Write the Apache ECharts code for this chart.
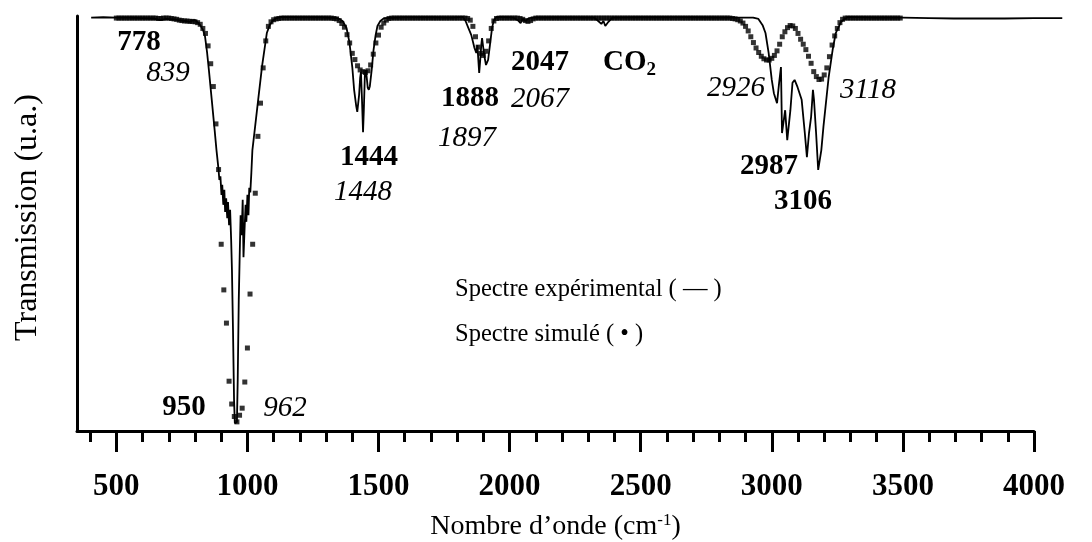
<!DOCTYPE html>
<html>
<head>
<meta charset="utf-8">
<script src="https://cdn.jsdelivr.net/npm/echarts@6/dist/echarts.min.js"></script>
<style>
html,body{margin:0;padding:0;background:#fff;}
#chart{width:1092px;height:542px;}
</style>
</head>
<body>
<div id="chart"></div>
<script>
// ---- DATA ----
const majorTicks = [500, 1000, 1500, 2000, 2500, 3000, 3500, 4000];
const minorTicks = [400, 600, 700, 800, 900, 1100, 1200, 1300, 1400, 1600, 1700, 1800, 1900,
  2100, 2200, 2300, 2400, 2600, 2700, 2800, 2900, 3100, 3200, 3300, 3400, 3600, 3700, 3800, 3900];

// Experimental spectrum: [wavenumber cm-1, transmission %]
const experimental = [
  [404,99.6],[450,99.7],[500,99.6],[550,99.6],[600,99.5],[640,99.4],[669,99.0],[690,99.3],[720,99.2],
  [750,98.9],[765,98.8],[779,98.6],[790,98.9],[801,99.0],[820,97.8],[831,96.6],[838,95.2],[846,91.3],
  [853,87.0],[864,79.8],[875,72.5],[882,67.7],[890,62.9],[893,60.5],[897,61.4],[901,56.9],[904,59.3],
  [908,54.5],[912,58.1],[915,52.8],[919,56.1],[923,51.3],[926,55.2],[930,49.6],[934,53.3],[938,46.0],
  [941,38.8],[945,24.3],[949,7.5],[952,1.9],[960,2.2],[963,12.3],[967,31.6],[971,43.6],[974,52.0],
  [978,47.2],[982,55.7],[985,41.9],[989,48.4],[993,54.5],[996,50.4],[1000,56.9],[1004,52.0],[1007,58.6],
  [1011,57.5],[1015,62.2],[1019,67.7],[1030,73.7],[1041,79.8],[1056,88.0],[1074,95.9],[1085,97.8],
  [1096,98.8],[1111,99.5],[1130,99.8],[1200,99.7],[1280,99.7],
  [1344,99.5],[1363,98.8],[1378,97.1],[1389,93.7],[1400,87.7],[1407,82.2],[1415,78.3],[1419,76.9],
  [1422,77.3],[1426,81.0],[1430,85.1],[1433,86.5],[1437,79.8],[1441,72.0],[1444,77.3],[1448,85.8],
  [1452,87.0],[1456,84.6],[1459,82.7],[1463,82.2],[1467,83.1],[1474,87.0],[1481,91.8],[1489,95.4],
  [1496,97.6],[1507,98.8],[1522,99.5],[1600,99.7],[1700,99.7],[1780,99.6],
  [1821,99.8],[1832,98.8],[1843,97.1],[1854,95.4],[1866,92.3],[1873,91.1],[1877,93.0],[1884,86.3],
  [1888,89.4],[1892,93.0],[1895,94.7],[1903,90.6],[1910,88.2],[1918,89.4],[1925,93.0],[1933,97.1],
  [1940,99.0],[1951,99.8],[2000,99.7],
  [2015,99.6],[2031,99.0],[2042,98.3],[2050,99.3],[2062,98.8],[2073,99.5],[2092,99.6],[2200,99.7],
  [2323,99.6],[2338,98.8],[2350,98.1],[2358,98.8],[2365,97.6],[2377,98.6],[2392,99.6],
  [2500,99.7],[2600,99.7],[2700,99.7],[2800,99.6],[2880,99.6],
  [2929,99.6],[2949,99.3],[2965,97.8],[2976,95.9],[2988,91.1],[3000,84.6],[3008,81.4],[3020,79.0],
  [3028,83.9],[3035,87.7],[3039,71.8],[3051,77.3],[3059,70.1],[3071,77.3],[3079,83.9],[3087,84.6],
  [3098,82.9],[3114,79.8],[3126,71.8],[3134,66.0],[3142,71.8],[3150,75.7],[3157,82.2],[3161,79.8],
  [3169,71.8],[3177,62.9],[3189,67.7],[3197,73.3],[3205,78.1],[3217,85.3],[3232,91.8],[3244,95.9],
  [3264,98.6],[3291,99.8],[3400,99.6],[3500,99.6],[3600,99.5],[3694,99.4],[3800,99.4],[3888,99.4],
  [4000,99.5],[4108,99.5]
];

// Simulated spectrum: one value every simStep cm-1 starting at simStart
const simStart = 500;
const simStep = 10;
const simulated = [
  /*500*/ 99.5,99.5,99.5,99.5,99.5,99.5,99.5,99.5,99.5,99.5,
  /*600*/ 99.5,99.5,99.5,99.5,99.5,99.5,99.4,99.4,99.5,99.5,
  /*700*/ 99.5,99.4,99.3,99.2,99.0,98.9,98.8,98.8,98.7,98.7,
  /*800*/ 98.6,98.4,98.0,97.0,95.8,92.8,88.5,83.0,74.0,63.0,
  /*900*/ 45.0,34.0,26.0,12.0,6.5,3.5,2.2,3.8,5.5,11.8,
  /*1000*/ 20.0,33.0,45.0,57.3,71.0,79.0,87.5,94.0,97.5,98.6,
  /*1100*/ 99.1,99.3,99.4,99.5,99.5,99.5,99.5,99.5,99.5,99.5,
  /*1200*/ 99.5,99.5,99.5,99.5,99.5,99.5,99.5,99.5,99.5,99.5,
  /*1300*/ 99.5,99.5,99.5,99.4,99.3,98.9,98.2,97.3,95.5,93.5,
  /*1400*/ 91.0,89.5,88.0,87.0,86.6,86.4,86.8,88.2,90.8,93.5,
  /*1500*/ 95.4,97.3,98.3,99.0,99.4,99.5,99.5,99.5,99.5,99.5,
  /*1600*/ 99.5,99.5,99.5,99.5,99.5,99.5,99.5,99.5,99.5,99.5,
  /*1700*/ 99.5,99.5,99.5,99.5,99.5,99.5,99.5,99.5,99.5,99.5,
  /*1800*/ 99.5,99.5,99.5,99.5,99.4,99.0,97.5,95.0,92.5,91.0,
  /*1900*/ 90.5,91.5,94.0,97.0,98.8,99.4,99.5,99.5,99.5,99.5,
  /*2000*/ 99.5,99.5,99.5,99.5,99.4,99.2,98.9,98.7,98.9,99.3,
  /*2100*/ 99.5,99.5,99.5,99.5,99.5,99.5,99.5,99.5,99.5,99.5,
  /*2200*/ 99.5,99.5,99.5,99.5,99.5,99.5,99.5,99.5,99.5,99.5,
  /*2300*/ 99.5,99.5,99.5,99.5,99.5,99.5,99.5,99.5,99.5,99.5,
  /*2400*/ 99.5,99.5,99.5,99.5,99.5,99.5,99.5,99.5,99.5,99.5,
  /*2500*/ 99.5,99.5,99.5,99.5,99.5,99.5,99.5,99.5,99.5,99.5,
  /*2600*/ 99.5,99.5,99.5,99.5,99.5,99.5,99.5,99.5,99.5,99.5,
  /*2700*/ 99.5,99.5,99.5,99.5,99.5,99.5,99.5,99.5,99.5,99.5,
  /*2800*/ 99.5,99.5,99.5,99.5,99.5,99.4,99.3,99.1,98.8,98.3,
  /*2900*/ 97.5,96.4,95.0,93.6,92.3,91.2,90.3,89.7,89.4,89.4,
  /*3000*/ 89.8,90.5,91.6,93.2,95.0,96.2,97.2,97.7,97.6,97.0,
  /*3100*/ 95.8,94.4,93.2,91.9,90.3,88.6,86.6,85.4,84.7,84.8,
  /*3200*/ 85.8,87.5,90.2,93.0,95.2,97.0,98.4,99.2,99.5,99.5,
  /*3300*/ 99.5,99.5,99.5,99.5,99.5,99.5,99.5,99.5,99.5,99.5,
  /*3400*/ 99.5,99.5,99.5,99.5,99.5,99.5,99.5,99.5,99.5,99.5
];

// ---- CHART ----
const FONT = "'Liberation Serif', 'Times New Roman', serif";
const chart = echarts.init(document.getElementById('chart'), null, {renderer: 'canvas'});
const simData = simulated.map((t, i) => [simStart + i * simStep, t]);

function txt(text, cx, cy, style) {
  return {
    type: 'text', x: cx, y: cy, silent: true,
    style: {
      text: text, x: 0, y: 0, align: 'center', verticalAlign: 'middle',
      fontFamily: FONT, fontSize: 29,
      fontWeight: style === 'b' ? 'bold' : 'normal',
      fontStyle: style === 'i' ? 'italic' : 'normal',
      fill: '#000'
    }
  };
}

const option = {
  animation: false,
  backgroundColor: '#fff',
  grid: [
    {left: 77, top: 16, right: 29.2, bottom: 111, containLabel: false, outerBoundsMode: 'none'},
    {left: 77, top: 16, right: 58, bottom: 111, containLabel: false, outerBoundsMode: 'none'}
  ],
  xAxis: [
    {gridIndex: 0, type: 'value', min: 350, max: 4110, show: false},
    {
      gridIndex: 1, type: 'value', min: 350, max: 4000, position: 'bottom',
      axisLine: {show: true, onZero: false, lineStyle: {color: '#000', width: 3}},
      axisTick: {show: true, customValues: majorTicks, length: 21, inside: false, lineStyle: {color: '#000', width: 3}},
      axisLabel: {show: true, customValues: majorTicks, margin: 40, color: '#000',
        fontFamily: FONT, fontWeight: 'bold', fontSize: 31,
        formatter: function (v) { return String(v); }},
      splitLine: {show: false},
      name: '{a|Nombre d’onde (cm}{s|-1}{a|)}',
      nameLocation: 'middle', nameGap: 81,
      nameTextStyle: {rich: {
        a: {fontFamily: FONT, fontSize: 28, color: '#000'},
        s: {fontFamily: FONT, fontSize: 17, color: '#000', verticalAlign: 'top', padding: [0, 0, 13, 0]}
      }}
    },
    {
      gridIndex: 1, type: 'value', min: 350, max: 4000, position: 'bottom',
      axisLine: {show: false, onZero: false},
      axisTick: {show: true, customValues: minorTicks, length: 11, inside: false, lineStyle: {color: '#000', width: 3}},
      axisLabel: {show: false},
      splitLine: {show: false}
    }
  ],
  yAxis: [
    {gridIndex: 0, type: 'value', min: 0, max: 100, show: false},
    {
      gridIndex: 1, type: 'value', min: 0, max: 100, position: 'left',
      axisLine: {show: true, onZero: false, lineStyle: {color: '#000', width: 3}},
      axisTick: {show: false}, axisLabel: {show: false}, splitLine: {show: false},
      name: 'Transmission (u.a.)', nameLocation: 'middle', nameGap: 33, nameRotate: 90,
      nameTextStyle: {fontFamily: FONT, fontSize: 32, color: '#000', padding: [0, 0, 0, 12]}
    }
  ],
  series: [
    {
      name: 'Spectre expérimental', type: 'line', xAxisIndex: 0, yAxisIndex: 0,
      data: experimental, showSymbol: false, symbol: 'none',
      lineStyle: {color: '#000', width: 1.8}, z: 3
    },
    {
      name: 'Spectre simulé', type: 'scatter', xAxisIndex: 0, yAxisIndex: 0,
      data: simData, symbol: 'rect', symbolSize: 5,
      itemStyle: {color: '#000'}, z: 2
    }
  ],
  graphic: [
    txt('778', 139, 43, 'b'),
    txt('839', 168, 73, 'i'),
    txt('950', 184, 408, 'b'),
    txt('962', 285, 408, 'i'),
    txt('1444', 369, 158, 'b'),
    txt('1448', 363, 192, 'i'),
    txt('1888', 470, 99, 'b'),
    txt('1897', 467, 138, 'i'),
    txt('2047', 540, 63, 'b'),
    txt('2067', 540, 99, 'i'),
    {
      type: 'text', x: 603, y: 63, silent: true,
      style: {
        text: '{c|CO}{s|2}', x: 0, y: 0, align: 'left', verticalAlign: 'middle',
        rich: {
          c: {fontFamily: FONT, fontWeight: 'bold', fontSize: 29, fill: '#000'},
          s: {fontFamily: FONT, fontWeight: 'bold', fontSize: 19, fill: '#000', padding: [14, 0, 0, 0]}
        }
      }
    },
    txt('2926', 736, 88, 'i'),
    txt('2987', 769, 167, 'b'),
    txt('3106', 803, 202, 'b'),
    txt('3118', 868, 90, 'i'),
    {
      type: 'text', x: 455, y: 290, silent: true,
      style: {text: 'Spectre expérimental ( — )', x: 0, y: 0, align: 'left', verticalAlign: 'middle',
        fontFamily: FONT, fontSize: 24.5, fill: '#000'}
    },
    {
      type: 'text', x: 455, y: 335, silent: true,
      style: {text: 'Spectre simulé ( • )', x: 0, y: 0, align: 'left', verticalAlign: 'middle',
        fontFamily: FONT, fontSize: 24.5, fill: '#000'}
    }
  ]
};
chart.setOption(option);
</script>
</body>
</html>
